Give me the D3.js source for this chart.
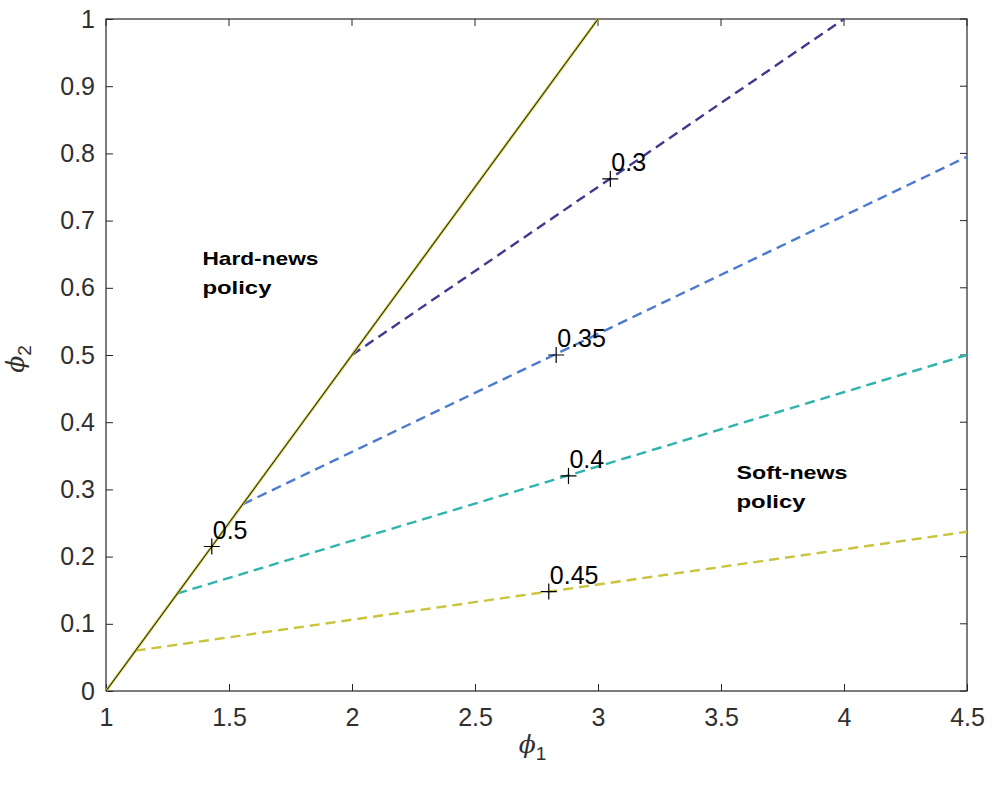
<!DOCTYPE html>
<html>
<head>
<meta charset="utf-8">
<script src="https://cdn.jsdelivr.net/npm/d3@7"></script>
<style>
  body { margin: 0; background: #fff; }
  text { font-family: 'Liberation Sans', Arial, sans-serif; }
</style>
</head>
<body>
<div id="chart"></div>
<script>
// boundary line phi2 = (phi1 - 1) / 2
let boundary = [[1, 0], [3, 1]]

// dashed threshold lines, from start point to end point
let seriesNames = ['0.3', '0.35', '0.4', '0.45']
let seriesColors = ['#3e3a8e', '#4b7bd0', '#2fb3ad', '#c9c43c']
let seriesStart = [[2, 0.5], [1.557, 0.278], [1.289, 0.145], [1.12, 0.06]]
let seriesEnd = [[4, 1], [4.5, 0.795], [4.5, 0.5], [4.5, 0.237]]

// marked points with labels
let markLabels = ['0.3', '0.35', '0.4', '0.45', '0.5']
let markPoints = [[3.05, 0.762], [2.83, 0.5], [2.88, 0.32], [2.8, 0.148], [1.43, 0.215]]

let xTicks = [1, 1.5, 2, 2.5, 3, 3.5, 4, 4.5]
let yTicks = [0, 0.1, 0.2, 0.3, 0.4, 0.5, 0.6, 0.7, 0.8, 0.9, 1]

let margin = { top: 19, left: 106, right: 25, bottom: 97 }
let width = 992 - margin.left - margin.right
let height = 788 - margin.top - margin.bottom

let svg = d3
  .select('#chart')
  .append('svg')
  .attr('width', 992)
  .attr('height', 788)
  .append('g')
  .attr('transform', 'translate(' + margin.left + ',' + margin.top + ')')

let xPositionScale = d3.scaleLinear().domain([1, 4.5]).range([0, width])
let yPositionScale = d3.scaleLinear().domain([0, 1]).range([height, 0])

let line = d3
  .line()
  .x(d => xPositionScale(d[0]))
  .y(d => yPositionScale(d[1]))

// box
svg
  .append('rect')
  .attr('width', width)
  .attr('height', height)
  .attr('fill', 'none')
  .attr('stroke', '#262626')
  .attr('stroke-width', 1.2)

// axes
let xAxis = d3.axisBottom(xPositionScale).tickValues(xTicks).tickSize(-7).tickPadding(17).tickFormat(d3.format('~g'))
svg
  .append('g')
  .attr('class', 'axis x-axis')
  .attr('transform', 'translate(0,' + height + ')')
  .call(xAxis)

let yAxis = d3.axisLeft(yPositionScale).tickValues(yTicks).tickSize(-7).tickPadding(11).tickFormat(d3.format('~g'))
svg
  .append('g')
  .attr('class', 'axis y-axis')
  .call(yAxis)

// top and right ticks
svg
  .selectAll('.top-tick')
  .data(xTicks)
  .enter()
  .append('line')
  .attr('x1', d => xPositionScale(d))
  .attr('x2', d => xPositionScale(d))
  .attr('y1', 0)
  .attr('y2', 7)
  .attr('stroke', '#262626')
svg
  .selectAll('.right-tick')
  .data(yTicks)
  .enter()
  .append('line')
  .attr('x1', width)
  .attr('x2', width - 7)
  .attr('y1', d => yPositionScale(d))
  .attr('y2', d => yPositionScale(d))
  .attr('stroke', '#262626')

svg.selectAll('.axis .domain').remove()
svg.selectAll('.axis line').attr('stroke', '#262626')
svg
  .selectAll('.axis text')
  .attr('font-size', 25)
  .attr('fill', '#303030')
  .style('font-family', "'Liberation Sans', Arial, sans-serif")

// dashed lines
seriesNames.forEach((name, i) => {
  svg
    .append('path')
    .attr('d', line([seriesStart[i], seriesEnd[i]]))
    .attr('stroke', seriesColors[i])
    .attr('stroke-width', 2.4)
    .attr('stroke-dasharray', '10,6')
    .attr('fill', 'none')
})

// boundary: yellow under black
svg
  .append('path')
  .attr('d', line(boundary))
  .attr('stroke', '#c9c43c')
  .attr('stroke-width', 2.6)
  .attr('fill', 'none')
svg
  .append('path')
  .attr('d', line(boundary))
  .attr('stroke', '#1a1a1a')
  .attr('stroke-width', 1)
  .attr('fill', 'none')

// markers
markPoints.forEach((p, i) => {
  let cx = xPositionScale(p[0])
  let cy = yPositionScale(p[1])
  svg
    .append('path')
    .attr('d', 'M' + (cx - 8) + ',' + cy + 'H' + (cx + 8) + 'M' + cx + ',' + (cy - 8) + 'V' + (cy + 8))
    .attr('stroke', '#000')
    .attr('stroke-width', 1.2)
  svg
    .append('text')
    .attr('x', cx)
    .attr('y', cy)
    .attr('dx', 1)
    .attr('dy', -8)
    .attr('font-size', 25)
    .attr('fill', '#000')
    .text(markLabels[i])
})

// region annotations (text in the source is stretched wide)
let regions = [
  { lines: ['Hard-news', 'policy'], widths: [116, 69], x: 1.392, y: 0.634 },
  { lines: ['Soft-news', 'policy'], widths: [111, 69], x: 3.563, y: 0.315 }
]
regions.forEach(r => {
  r.lines.forEach((l, j) => {
    svg
      .append('text')
      .attr('x', xPositionScale(r.x))
      .attr('y', yPositionScale(r.y) + j * 29)
      .attr('font-size', 19)
      .attr('font-weight', 'bold')
      .attr('fill', '#000')
      .attr('textLength', r.widths[j])
      .attr('lengthAdjust', 'spacingAndGlyphs')
      .text(l)
  })
})

// axis labels
let xLabel = svg
  .append('text')
  .attr('x', width / 2 - 4)
  .attr('y', height + 62)
  .attr('text-anchor', 'middle')
  .attr('fill', '#303030')
  .attr('font-size', 25)
xLabel.append('tspan').style('font-style', 'italic').style('font-family', "'DejaVu Serif', serif").text('ϕ')
xLabel.append('tspan').attr('dy', 7).attr('font-size', 19).text('1')

let yLabel = svg
  .append('text')
  .attr('transform', 'translate(-82,' + (height / 2 + 4) + ') rotate(-90)')
  .attr('text-anchor', 'middle')
  .attr('fill', '#303030')
  .attr('font-size', 25)
yLabel.append('tspan').style('font-style', 'italic').style('font-family', "'DejaVu Serif', serif").text('ϕ')
yLabel.append('tspan').attr('dy', 7).attr('font-size', 19).text('2')
</script>
</body>
</html>
